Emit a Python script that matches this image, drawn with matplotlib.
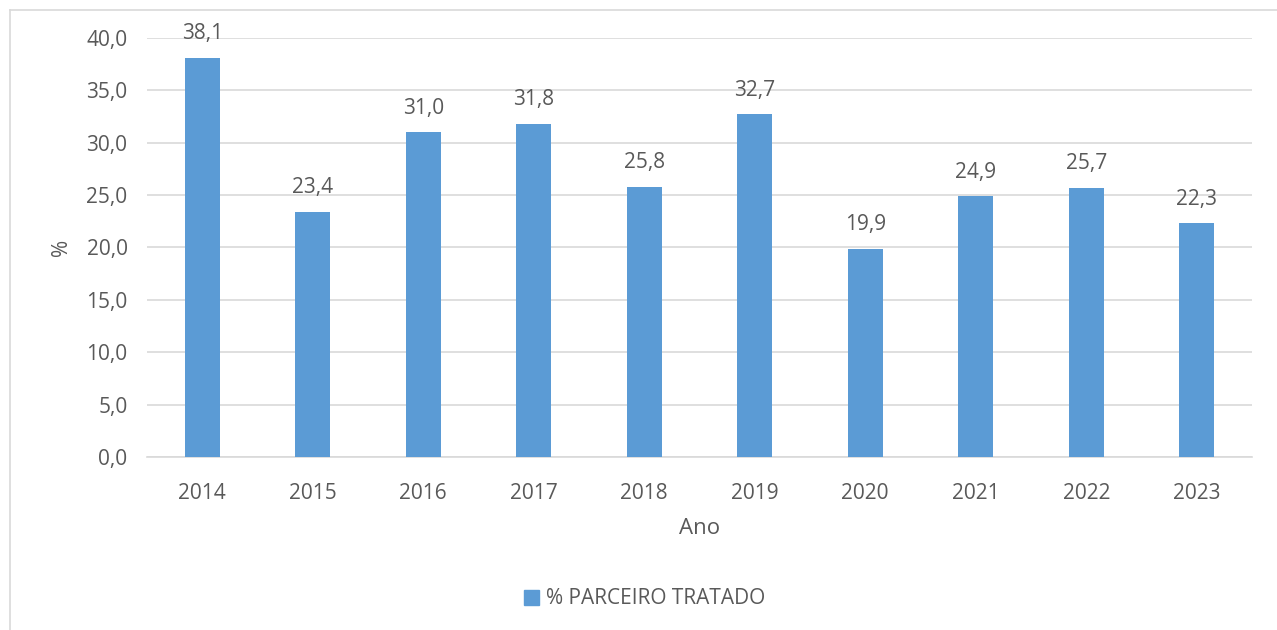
import matplotlib.pyplot as plt
from matplotlib.lines import Line2D
from matplotlib.patches import Patch

years = ["2014", "2015", "2016", "2017", "2018", "2019", "2020", "2021", "2022", "2023"]
values = [38.1, 23.4, 31.0, 31.8, 25.8, 32.7, 19.9, 24.9, 25.7, 22.3]
series_name = "% PARCEIRO TRATADO"

BAR = "#5B9BD5"
TXT = "#595959"
GRID = "#D9D9D9"
FS = 15

plt.rcParams["font.family"] = ["Open Sans", "DejaVu Sans"]

fig = plt.figure(figsize=(12.77, 6.30), dpi=100)
ax = fig.add_axes([147 / 1277, 1 - 457 / 630, (1252 - 147) / 1277, (457 - 38) / 630])

x = range(len(years))
bars = ax.bar(x, values, width=0.32, color=BAR, zorder=3)

for bar, v in zip(bars, values):
    ax.text(bar.get_x() + bar.get_width() / 2, v + 1.3, f"{v:.1f}".replace(".", ","),
            ha="center", va="bottom", fontsize=FS, color=TXT)

ax.set_xlim(-0.5, len(years) - 0.5)
ax.set_ylim(0, 40)
ax.set_yticks(range(0, 41, 5))
ax.set_yticklabels([f"{t:.1f}".replace(".", ",") for t in range(0, 41, 5)])
ax.set_xticks(list(x))
ax.set_xticklabels(years)
ax.tick_params(axis="both", length=0, labelsize=FS, labelcolor=TXT)
ax.tick_params(axis="y", pad=14)
ax.tick_params(axis="x", pad=19)

ax.yaxis.grid(True, color=GRID, linewidth=1.2, zorder=0)
for s in ["top", "right", "left"]:
    ax.spines[s].set_visible(False)
ax.spines["bottom"].set_color(GRID)
ax.spines["bottom"].set_linewidth(1.2)

ax.set_xlabel("Ano", fontsize=16, color=TXT, labelpad=10)
ax.set_ylabel("%", fontsize=15, color=TXT, labelpad=10)

handle = Patch(facecolor=BAR, edgecolor=BAR)
fig.legend([handle], [series_name], loc="center", bbox_to_anchor=(645 / 1277, 1 - 599 / 630),
           frameon=False, fontsize=FS, labelcolor=TXT, handlelength=0.7, handleheight=0.7,
           handletextpad=0.35)

# chart outer border (left and top visible)
fig.add_artist(Line2D([9.5 / 1277, 9.5 / 1277], [0, 1 - 9.5 / 630], color=GRID, linewidth=1.2))
fig.add_artist(Line2D([9.5 / 1277, 1], [1 - 9.5 / 630, 1 - 9.5 / 630], color=GRID, linewidth=1.2))

fig.savefig("out.png", dpi=100)
